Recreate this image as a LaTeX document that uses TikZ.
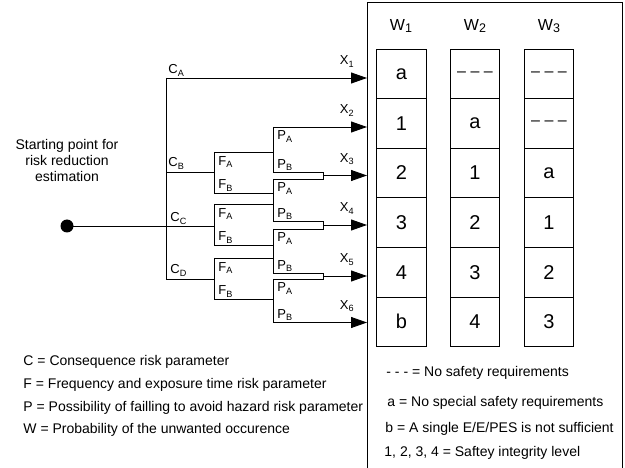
\documentclass[tikz,border=0pt]{standalone}
\usepackage{fontspec}
\setmainfont{Liberation Sans}
\usetikzlibrary{arrows.meta}
\newcommand{\hsub}[1]{\raisebox{-2.5pt}{\fontsize{12.5}{12.5}\selectfont #1}}
\newcommand{\tridash}{{\fontsize{16}{18}\selectfont --\hspace{4.5pt}--\hspace{4.5pt}--}}
\begin{document}
\begin{tikzpicture}[x=1pt,y=-1pt, line width=0.9pt,
  lbl/.style={font=\fontsize{13}{15}\selectfont, inner sep=0pt, anchor=base west},
  xl/.style={font=\fontsize{13}{15}\selectfont, inner sep=0pt, anchor=base},
  cell/.style={draw, minimum width=49.5pt, minimum height=49.6pt, inner sep=0pt, line width=0.8pt},
  ctext/.style={font=\fontsize{20}{22}\selectfont, inner sep=0pt},
  hdr/.style={font=\fontsize{16}{18}\selectfont, inner sep=0pt, anchor=base},
  arr/.style={-{Triangle[length=16pt,width=11pt]}},
  leg/.style={font=\fontsize{14}{16}\selectfont, inner sep=0pt, anchor=base west}
]
\useasboundingbox (0,0) rectangle (625,468);
% frame
\begin{scope}
\clip (0,0) rectangle (625,468);
\coordinate (ftl) at (367,3);
\coordinate (ftr) at (622,3);
\draw[line width=1pt] (367,480) -- (ftl) -- (ftr) -- (622,480);
\end{scope}
% headers
\node[hdr] (w1) at (401,30.5) {W\hsub{1}};
\node[hdr] (w2) at (475,30.5) {W\hsub{2}};
\node[hdr] (w3) at (549,30.5) {W\hsub{3}};
% cells
\foreach \col/\xx in {1/401.5,2/475,3/549}{
  \foreach \row in {1,...,6}{
    \node[cell] (c\col-\row) at (\xx,{49+49.6*(\row-0.5)}) {};
  }
}
\node at (c1-1) [ctext] (t11) {a};
\node at (c1-2) [ctext] (t12) {1};
\node at (c1-3) [ctext] (t13) {2};
\node at (c1-4) [ctext] (t14) {3};
\node at (c1-5) [ctext] (t15) {4};
\node at (c1-6) [ctext] (t16) {b};
\node at (c2-1) [ctext] (t21) {\tridash};
\node at (c2-2) [ctext] (t22) {a};
\node at (c2-3) [ctext] (t23) {1};
\node at (c2-4) [ctext] (t24) {2};
\node at (c2-5) [ctext] (t25) {3};
\node at (c2-6) [ctext] (t26) {4};
\node at (c3-1) [ctext] (t31) {\tridash};
\node at (c3-2) [ctext] (t32) {\tridash};
\node at (c3-3) [ctext] (t33) {a};
\node at (c3-4) [ctext] (t34) {1};
\node at (c3-5) [ctext] (t35) {2};
\node at (c3-6) [ctext] (t36) {3};

% start
\node[circle, fill, inner sep=0pt, minimum size=13pt] (start) at (67,226) {};
\node[font=\fontsize{14}{16}\selectfont, align=center, inner sep=0pt, anchor=base] (stxt) at (67,181.5) {Starting point for\\risk reduction\\estimation};

% arrow end points on frame
\coordinate (e1) at (367,78);
\coordinate (e2) at (367,127);
\coordinate (e3) at (367,175.5);
\coordinate (e4) at (367,225);
\coordinate (e5) at (367,276);
\coordinate (e6) at (367,322.5);

% C level
\coordinate (cA) at (166,78);
\coordinate (cB) at (166,172);
\coordinate (cC) at (166,226);
\coordinate (cD) at (166,279);
\coordinate (fB) at (214,172);
\coordinate (fC) at (214,226);
\coordinate (fD) at (214,279);
\draw (cA) -- (cD);
\draw[arr] (cA) -- (e1);
\draw (cB) -- (fB);
\draw (start.center) -- (fC);
\draw (cD) -- (fD);

% F verticals and lines
\foreach \n/\ya/\yb in {B/152/193, C/204/245, D/258/299}{
  \coordinate (f\n a) at (214,\ya);
  \coordinate (f\n b) at (214,\yb);
  \coordinate (p\n a) at (273,\ya);
  \coordinate (p\n b) at (273,\yb);
  \draw (f\n a) -- (f\n b);
  \draw (f\n a) -- (p\n a);
  \draw (f\n b) -- (p\n b);
}

% P groups
\coordinate (g1a) at (273,127); \coordinate (g1b) at (273,172);
\coordinate (g2a) at (273,179); \coordinate (g2b) at (273,221);
\coordinate (g3a) at (273,229); \coordinate (g3b) at (273,273);
\coordinate (g4a) at (273,279); \coordinate (g4b) at (273,322.5);
\draw (g1a) -- (g1b);
\draw (g2a) -- (g2b);
\draw (g3a) -- (g3b);
\draw (g4a) -- (g4b);
\draw[arr] (g1a) -- (e2);
\draw[arr] (g4b) -- (e6);
% brackets
\coordinate (k3a) at (323,172); \coordinate (k3b) at (323,179); \coordinate (k3) at (323,175.5);
\coordinate (k4a) at (323,221); \coordinate (k4b) at (323,229); \coordinate (k4) at (323,225);
\coordinate (k5a) at (323,273); \coordinate (k5b) at (323,279); \coordinate (k5) at (323,276);
\draw (g1b) -- (k3a) -- (k3b) -- (g2a);
\draw (g2b) -- (k4a) -- (k4b) -- (g3a);
\draw (g3b) -- (k5a) -- (k5b) -- (g4a);
\draw[arr] (k3) -- (e3);
\draw[arr] (k4) -- (e4);
\draw[arr] (k5) -- (e5);

% X labels
\node[xl] (x1) at (347,65) {X\textsubscript{1}};
\node[xl] (x2) at (347,114) {X\textsubscript{2}};
\node[xl] (x3) at (347,162.5) {X\textsubscript{3}};
\node[xl] (x4) at (347,212) {X\textsubscript{4}};
\node[xl] (x5) at (347,263) {X\textsubscript{5}};
\node[xl] (x6) at (347,309.5) {X\textsubscript{6}};

% C labels
\node[lbl] (lca) at (168,74) {C\textsubscript{A}};
\node[lbl] (lcb) at (168,167) {C\textsubscript{B}};
\node[lbl] (lcc) at (170,222) {C\textsubscript{C}};
\node[lbl] (lcd) at (170,274) {C\textsubscript{D}};

% F labels
\node[lbl] (lf1) at (218,165.5) {F\textsubscript{A}};
\node[lbl] (lf2) at (218,189) {F\textsubscript{B}};
\node[lbl] (lf3) at (218,217.5) {F\textsubscript{A}};
\node[lbl] (lf4) at (218,241) {F\textsubscript{B}};
\node[lbl] (lf5) at (218,271.5) {F\textsubscript{A}};
\node[lbl] (lf6) at (218,295) {F\textsubscript{B}};

% P labels
\node[lbl] (lp1) at (277,140) {P\textsubscript{A}};
\node[lbl] (lp2) at (277,168.5) {P\textsubscript{B}};
\node[lbl] (lp3) at (277,192) {P\textsubscript{A}};
\node[lbl] (lp4) at (277,217.5) {P\textsubscript{B}};
\node[lbl] (lp5) at (277,242) {P\textsubscript{A}};
\node[lbl] (lp6) at (277,269.5) {P\textsubscript{B}};
\node[lbl] (lp7) at (277,292) {P\textsubscript{A}};
\node[lbl] (lp8) at (277,318.5) {P\textsubscript{B}};

% legends left
\node[leg] (l1) at (23,366) {C = Consequence risk parameter};
\node[leg] (l2) at (23,388.5) {F = Frequency and exposure time risk parameter};
\node[leg] (l3) at (23,411) {P = Possibility of failling to avoid hazard risk parameter};
\node[leg] (l4) at (23,433) {W = Probability of the unwanted occurence};

% legends right
\node[leg] (r1) at (386,376.5) {- - - = No safety requirements};
\node[leg] (r2) at (387,406.5) {a = No special safety requirements};
\node[leg] (r3) at (385,432.5) {b = A single E/E/PES is not sufficient};
\node[leg] (r4) at (384,456.5) {1, 2, 3, 4 = Saftey integrity level};
\end{tikzpicture}
\end{document}
